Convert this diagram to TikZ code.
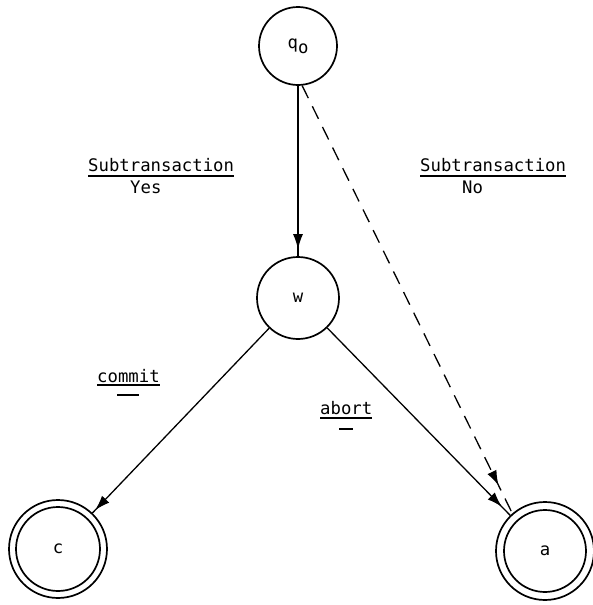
\documentclass[tikz,border=0pt]{standalone}
\usepackage{fontspec}
\setmonofont{DejaVu Sans Mono}
\usetikzlibrary{arrows.meta,decorations.markings}
\newcommand\lblfont{\ttfamily\fontsize{17.3}{21}\selectfont}
\tikzset{
  state/.style={circle,draw,line width=1.7pt,inner sep=0pt,font=\lblfont},
  ring/.style={line width=1.7pt},
  lbl/.style={inner sep=0pt,font=\lblfont,anchor=base west},
  edge/.style={line width=1.3pt},
  tipat/.style={postaction={decorate},decoration={markings,
     mark=at position -#1 with {\arrow{Latex[length=15pt,width=10pt]}}}},
  dashedline/.style={dash pattern=on 14pt off 9pt},
  bar/.style={line width=1.3pt}
}
\begin{document}
\begin{tikzpicture}[x=1pt,y=-1pt]
\useasboundingbox (0,0) rectangle (592,605);
% states
\node[state,minimum size=78pt] (q0) at (298,46) {q\raisebox{-5pt}{o}};
\node[state,minimum size=82pt] (w) at (298,298) {w};
\node[state,minimum size=98pt] (c) at (58,549) {c};
\node[state,minimum size=98pt] (a) at (545,551) {a};
\draw[ring] (c.center) circle[radius=42pt];
\draw[ring] (a.center) circle[radius=41pt];
% transitions
\draw[edge,tipat=7pt] (q0) -- (w);
\draw[edge,dashedline,tipat=31pt] (q0.-84) -- (a.131);
\draw[edge,tipat=4pt] (w) -- (c);
\draw[edge,tipat=12pt] (w) -- (a);
% labels
\node[lbl] (sy) at (88,171) {Subtransaction};
\node[lbl] (yes) at (130,193) {Yes};
\draw[bar] ([yshift=-5pt]sy.base west) -- ([yshift=-5pt]sy.base east);
\node[lbl] (sn) at (420,171) {Subtransaction};
\node[lbl] (no) at (462,193) {No};
\draw[bar] ([yshift=-5pt]sn.base west) -- ([yshift=-5pt]sn.base east);
\node[lbl] (cm) at (97,382) {commit};
\draw[bar] ([yshift=-3pt]cm.base west) -- ([yshift=-3pt]cm.base east);
\coordinate (cmb) at ([yshift=-13pt]cm.base);
\draw[bar] ([xshift=-11pt]cmb) -- ([xshift=11pt]cmb);
\node[lbl] (ab) at (320,414) {abort};
\draw[bar] ([yshift=-4pt]ab.base west) -- ([yshift=-4pt]ab.base east);
\coordinate (abb) at ([yshift=-15pt]ab.base);
\draw[bar] ([xshift=-7pt]abb) -- ([xshift=7pt]abb);
\end{tikzpicture}
\end{document}
